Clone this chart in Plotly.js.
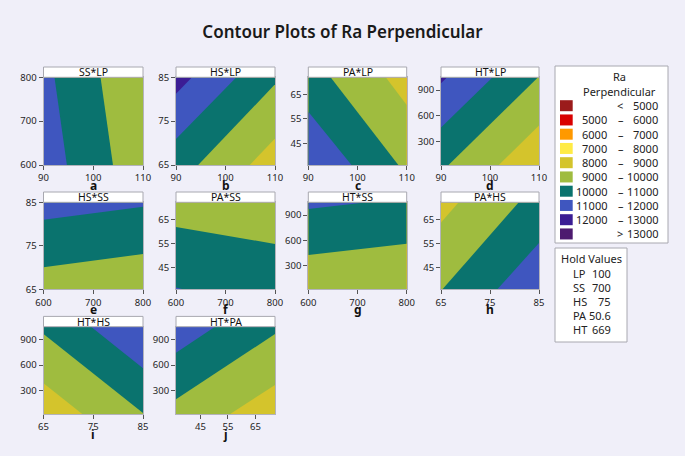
<!DOCTYPE html>
<html><head><meta charset="utf-8">
<script src="https://cdn.plot.ly/plotly-3.0.1.min.js"></script>
<style>html,body{margin:0;padding:0;background:#f0eff9;} #chart{width:685px;height:456px;}</style>
</head><body><div id="chart"></div>
<script>
// ---- factor extents (axis ranges) ----
const LP = [90, 110];
const SS = [600, 800];
const HS = [65, 85];
const PA = [36.1, 72.1];
const HT = [25, 1050];

// ---- tick values ----
const LP_ticks = [90, 100, 110];
const SS_ticks = [600, 700, 800];
const HS_ticks = [65, 75, 85];
const PA_ticks = [45, 55, 65];
const HT_ticks = [300, 600, 900];

// ---- Ra Perpendicular at panel corners: [[(xmin,ymin),(xmax,ymin)],[(xmin,ymax),(xmax,ymax)]] ----
const z_SS_LP = [[11508, 9348], [11238, 9078]];
const z_HS_LP = [[10430, 8510], [12360, 10130]];
const z_PA_LP = [[11924, 9821], [10404, 8620]];
const z_HT_LP = [[10150, 8200], [12135, 9980]];
const z_HS_SS = [[9537, 9257], [11366, 11092]];
const z_PA_SS = [[11030, 10620], [9591, 9432]];
const z_HT_SS = [[9252, 9010], [11146, 10902]];
const z_PA_HS = [[9973, 11759], [8705, 10336]];
const z_HT_HS = [[8378, 9975], [10149, 11930]];
const z_HT_PA = [[9686, 8432], [11557, 10144]];

const panelNames = ['SS*LP', 'HS*LP', 'PA*LP', 'HT*LP', 'HS*SS', 'PA*SS', 'HT*SS', 'PA*HS', 'HT*HS', 'HT*PA'];
const panelLetters = ['a', 'b', 'c', 'd', 'e', 'f', 'g', 'h', 'i', 'j'];

// ---- legend ----
const legendLow = ['<', '5000', '6000', '7000', '8000', '9000', '10000', '11000', '12000', '>'];
const legendHigh = ['5000', '6000', '7000', '8000', '9000', '10000', '11000', '12000', '13000', '13000'];
const legendColors = ['#9b1b1b', '#d90000', '#ff9900', '#ffeb45', '#d4c42c', '#9fbc3f', '#0a736e', '#3f56bf', '#3b1d94', '#4d1a6f'];
const holdFactors = ['LP', 'SS', 'HS', 'PA', 'HT'];
const holdValues = ['100', '700', '75', '50.6', '669'];

// ---- layout helpers ----
const W = 685, H = 456;
const px = v => v / W;
const py = v => (H - v) / H;
const FONT = 'Noto Sans, Open Sans, sans-serif';

const colX = [[43.5, 143], [176, 275], [308.3, 406.7], [441, 539]];
const rowY = [[77.3, 165], [202.3, 289.3], [326.7, 414]];

const panels = [
  {x: LP, y: SS, xt: LP_ticks, yt: SS_ticks, z: z_SS_LP, c: 0, r: 0},
  {x: LP, y: HS, xt: LP_ticks, yt: HS_ticks, z: z_HS_LP, c: 1, r: 0},
  {x: LP, y: PA, xt: LP_ticks, yt: PA_ticks, z: z_PA_LP, c: 2, r: 0},
  {x: LP, y: HT, xt: LP_ticks, yt: HT_ticks, z: z_HT_LP, c: 3, r: 0},
  {x: SS, y: HS, xt: SS_ticks, yt: HS_ticks, z: z_HS_SS, c: 0, r: 1},
  {x: SS, y: PA, xt: SS_ticks, yt: PA_ticks, z: z_PA_SS, c: 1, r: 1},
  {x: SS, y: HT, xt: SS_ticks, yt: HT_ticks, z: z_HT_SS, c: 2, r: 1},
  {x: HS, y: PA, xt: HS_ticks, yt: PA_ticks, z: z_PA_HS, c: 3, r: 1},
  {x: HS, y: HT, xt: HS_ticks, yt: HT_ticks, z: z_HT_HS, c: 0, r: 2},
  {x: PA, y: HT, xt: PA_ticks, yt: HT_ticks, z: z_HT_PA, c: 1, r: 2}
];

// stepped colour scale: colour i flat on [0.1i-0.03, 0.1i+0.065]
const cscale = [];
legendColors.forEach((c, i) => {
  cscale.push([i === 0 ? 0 : 0.1 * i - 0.03, c]);
  cscale.push([i === legendColors.length - 1 ? 1 : 0.1 * i + 0.065, c]);
});

const data = [];
const layout = {
  width: W, height: H,
  margin: {l: 0, r: 0, t: 0, b: 0},
  paper_bgcolor: '#f0eff9',
  plot_bgcolor: '#ffffff',
  showlegend: false,
  font: {family: FONT, size: 10, color: '#222'},
  title: {text: 'Contour Plots of Ra Perpendicular', x: 0.5, xanchor: 'center', y: 1 - 31.7 / H, yanchor: 'middle',
          font: {family: FONT, size: 17, color: '#1a1a1a', weight: 600}},
  shapes: [], annotations: []
};

panels.forEach((p, i) => {
  const k = i + 1;
  const xa = 'xaxis' + (k === 1 ? '' : k), ya = 'yaxis' + (k === 1 ? '' : k);
  const xr = 'x' + (k === 1 ? '' : k), yr = 'y' + (k === 1 ? '' : k);
  const [x0, x1] = colX[p.c], [y0, y1] = rowY[p.r];
  data.push({
    type: 'contour', x: p.x, y: p.y, z: p.z, xaxis: xr, yaxis: yr,
    autocontour: false,
    contours: {start: 5000, end: 14000, size: 1000, coloring: 'fill', showlines: false},
    line: {width: 0},
    colorscale: cscale, showscale: false, hoverinfo: 'skip'
  });
  const axCommon = {showgrid: false, zeroline: false, showline: true, mirror: true, linecolor: '#b3b3bb', linewidth: 1,
    ticks: 'outside', ticklen: 4, tickcolor: '#555', tickfont: {family: FONT, size: 9.5, color: '#1e1e1e'}, fixedrange: true};
  layout[xa] = Object.assign({}, axCommon, {domain: [px(x0), px(x1)], range: p.x, tickvals: p.xt, anchor: yr});
  layout[ya] = Object.assign({}, axCommon, {domain: [py(y1), py(y0)], range: p.y, tickvals: p.yt, anchor: xr});
  // strip
  layout.shapes.push({type: 'rect', xref: 'paper', yref: 'paper', x0: px(x0), x1: px(x1), y0: py(y0), y1: py(y0 - 10.3),
    fillcolor: '#ffffff', line: {color: '#a8a8b0', width: 1}});
  layout.annotations.push({xref: 'paper', yref: 'paper', x: px((x0 + x1) / 2), y: py(y0 - 5.2), xanchor: 'center', yanchor: 'middle',
    text: panelNames[i], showarrow: false, font: {family: FONT, size: 10.5, color: '#111'}});
  layout.annotations.push({xref: 'paper', yref: 'paper', x: px((x0 + x1) / 2), y: py(y1 + 20), xanchor: 'center', yanchor: 'middle',
    text: '<b>' + panelLetters[i] + '</b>', showarrow: false, font: {family: FONT, size: 12, color: '#111'}});
});

// legend box
layout.shapes.push({type: 'rect', xref: 'paper', yref: 'paper', x0: px(555), x1: px(668), y0: py(243), y1: py(66),
  fillcolor: '#ffffff', line: {color: '#a8a8b0', width: 1}});
layout.annotations.push({xref: 'paper', yref: 'paper', x: px(619), y: py(76.7), xanchor: 'center', yanchor: 'middle',
  text: 'Ra', showarrow: false, font: {family: FONT, size: 11, color: '#222'}});
layout.annotations.push({xref: 'paper', yref: 'paper', x: px(619), y: py(91.7), xanchor: 'center', yanchor: 'middle',
  text: 'Perpendicular', showarrow: false, font: {family: FONT, size: 11, color: '#222'}});
legendColors.forEach((c, i) => {
  const yc = 105.7 + i * 14.25;
  layout.shapes.push({type: 'rect', xref: 'paper', yref: 'paper', x0: px(560), x1: px(572.7), y0: py(yc + 5.5), y1: py(yc - 5.5),
    fillcolor: c, line: {width: 0}});
  const first = i === 0, last = i === legendColors.length - 1;
  if (first || last) {
    layout.annotations.push({xref: 'paper', yref: 'paper', x: px(620), y: py(yc), xanchor: 'center', yanchor: 'middle',
      text: legendLow[i], showarrow: false, font: {family: FONT, size: 11, color: '#222'}});
  } else {
    layout.annotations.push({xref: 'paper', yref: 'paper', x: px(608.5), y: py(yc), xanchor: 'right', yanchor: 'middle',
      text: legendLow[i], showarrow: false, font: {family: FONT, size: 11, color: '#222'}});
    layout.annotations.push({xref: 'paper', yref: 'paper', x: px(620.7), y: py(yc), xanchor: 'center', yanchor: 'middle',
      text: '–', showarrow: false, font: {family: FONT, size: 11, color: '#222'}});
  }
  layout.annotations.push({xref: 'paper', yref: 'paper', x: px(659.5), y: py(yc), xanchor: 'right', yanchor: 'middle',
    text: legendHigh[i], showarrow: false, font: {family: FONT, size: 11, color: '#222'}});
});

// hold values box
layout.shapes.push({type: 'rect', xref: 'paper', yref: 'paper', x0: px(555), x1: px(627), y0: py(342), y1: py(248),
  fillcolor: '#ffffff', line: {color: '#a8a8b0', width: 1}});
layout.annotations.push({xref: 'paper', yref: 'paper', x: px(591.5), y: py(259), xanchor: 'center', yanchor: 'middle',
  text: 'Hold Values', showarrow: false, font: {family: FONT, size: 11, color: '#222'}});
holdFactors.forEach((f, i) => {
  const yc = 273.3 + i * 14.1;
  layout.annotations.push({xref: 'paper', yref: 'paper', x: px(570.5), y: py(yc), xanchor: 'left', yanchor: 'middle',
    text: f, showarrow: false, font: {family: FONT, size: 11, color: '#222'}});
  layout.annotations.push({xref: 'paper', yref: 'paper', x: px(612.5), y: py(yc), xanchor: 'right', yanchor: 'middle',
    text: holdValues[i], showarrow: false, font: {family: FONT, size: 11, color: '#222'}});
});

Plotly.newPlot('chart', data, layout, {displayModeBar: false, staticPlot: true});
</script>
</body></html>
